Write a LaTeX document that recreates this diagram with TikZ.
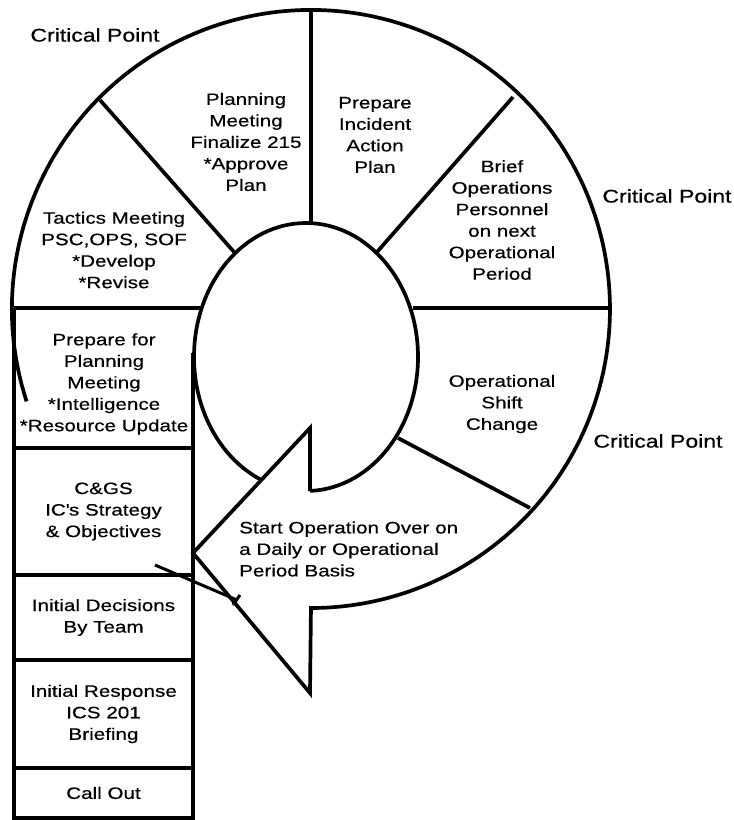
\documentclass[tikz,border=0pt]{standalone}
\usepackage{fontspec}
\setmainfont{Liberation Sans}[FakeStretch=1.25, FakeBold=0.5]
\usetikzlibrary{positioning}

\tikzset{
  ring/.style={line width=3.7pt},
  lbl/.style={font=\fontsize{16.5}{21.5}\selectfont, align=center, inner sep=0pt},
  crit/.style={font=\fontsize{18.4}{22}\selectfont, inner sep=0pt},
  stepbox/.style={draw, line width=3.7pt, minimum width=179pt, inner sep=0pt, align=center, font=\fontsize{16.5}{21.5}\selectfont}
}

\begin{document}
\begin{tikzpicture}[x=1pt, y=-1pt]
\useasboundingbox (0,0) rectangle (734,820);

% column of steps
\draw[ring] (14,308) -- (200,308);
\draw[ring] (14,308) -- (14,448);
\draw[ring] (193,353) -- (193,448);
\node[stepbox, minimum height=127pt] (cgs) at (103.5,511.5) {C\&GS\\IC\textquotesingle s Strategy\\\& Objectives};
\node[stepbox, minimum height=85pt, below=-3.7pt of cgs] (decide) {Initial Decisions\\By Team};
\node[stepbox, minimum height=108pt, below=-3.7pt of decide] (initial) {Initial Response\\ICS 201\\Briefing};
\node[stepbox, minimum height=50pt, below=-3.7pt of initial] (callout) {Call Out};

% inner hole, arrow head over it
\draw[ring] (306,357) ellipse[x radius=112, y radius=134];
\fill[white] (310,608) -- (310,693) -- (193,553) -- (310,428) -- (310,491) -- cycle;
\draw[ring] (26.6,401.4) arc[start angle=162, end angle=450, radius=299]
  -- (310,693) -- (193,553) -- (310,428) -- (310,491);

% sector borders
\draw[ring] (311,10) -- (311,223);
\draw[ring] (100,100) -- (234,252);
\draw[ring] (513,97) -- (377,252);
\draw[ring] (413,308) -- (610,308);
\draw[ring] (398,438) -- (530,508);

\draw[line width=3pt] (155,565) -- (237,600);
\draw[line width=3pt] (233,605) -- (240,595);

% sector texts
\node[lbl] (prep) at (104,384) {Prepare for\\Planning\\Meeting\\*Intelligence\\*Resource Update};
\node[lbl] (tactics) at (114,250) {Tactics Meeting\\PSC,OPS, SOF\\*Develop\\*Revise};
\node[lbl] (plan) at (246,142) {Planning\\Meeting\\Finalize 215\\*Approve\\Plan};
\node[lbl] (iap) at (375,135) {Prepare\\Incident\\Action\\Plan};
\node[lbl] (brief) at (502,220) {Brief\\Operations\\Personnel\\on next\\Operational\\Period};
\node[lbl] (shift) at (502,404) {Operational\\Shift\\Change};
\node[lbl, align=left, anchor=west] (restart) at (239,549) {Start Operation Over on\\a Daily or Operational\\Period Basis};

\node[crit] (cpa) at (95,35) {Critical Point};
\node[crit] (cpb) at (667,196) {Critical Point};
\node[crit] (cpc) at (658,441) {Critical Point};
\end{tikzpicture}
\end{document}
